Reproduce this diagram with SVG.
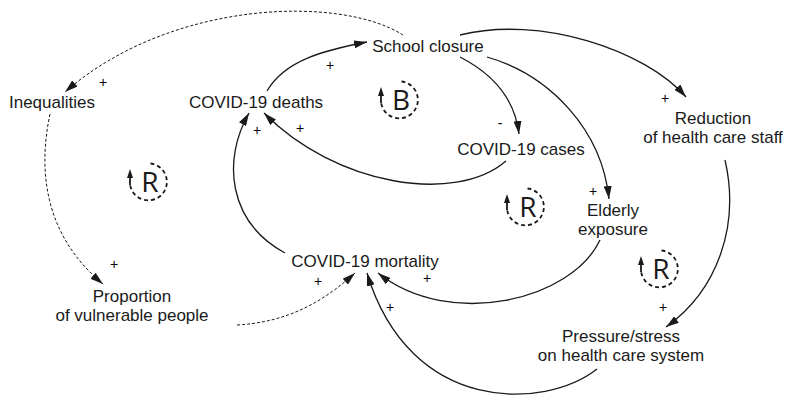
<svg xmlns="http://www.w3.org/2000/svg" width="791" height="404" viewBox="0 0 791 404">
<style>
  .node { font-family: "Liberation Sans", Arial, sans-serif; font-size: 17px; fill: #1a1a1a; text-anchor: middle; }
  .pol { font-family: "Liberation Sans", Arial, sans-serif; font-size: 14px; fill: #000000; text-anchor: middle; }
  .link { fill: none; stroke: #1a1a1a; stroke-width: 1.3; marker-end: url(#arr); }
  .dash { fill: none; stroke: #1a1a1a; stroke-width: 1; stroke-dasharray: 3 2; marker-end: url(#arr); }
  .loopArc { fill: none; stroke: #1a1a1a; stroke-width: 1.8; stroke-dasharray: 4 3; }
  .loopTxt { font-family: "Open Sans", "Noto Sans", sans-serif; font-size: 28px; fill: #1a1a1a; text-anchor: middle; }
</style>
<defs>
  <marker id="arr" markerUnits="userSpaceOnUse" markerWidth="13" markerHeight="8" refX="13" refY="4" orient="auto">
    <path d="M0,0 L13,4 L0,8 Z" fill="#1a1a1a"/>
  </marker>
  <g id="loopSym">
    <path class="loopArc" d="M 1.5 -18.5 A 18.5 18.5 0 1 1 -19 2"/>
    <path d="M -19 3 L -19 -6" stroke="#1a1a1a" stroke-width="1.8" fill="none"/>
    <path d="M -22 -4 L -19 -13 L -16 -4 Z" fill="#1a1a1a"/>
  </g>
</defs>

<g id="connectors">
  <path class="dash" d="M 403 35 C 340 -5, 170 0, 65 92"/>
  <path class="dash" d="M 50 114 C 36 180, 50 240, 103 284"/>
  <path class="dash" d="M 237 325 C 290 322, 325 300, 355 273"/>
  <path class="link" d="M 267 91 C 285 60, 325 50, 367 42"/>
  <path class="link" d="M 460 57 C 495 75, 515 100, 519 134"/>
  <path class="link" d="M 487 57 C 550 75, 602 130, 609 199"/>
  <path class="link" d="M 460 35 C 540 15, 645 50, 686 97"/>
  <path class="link" d="M 725 160 C 740 225, 718 290, 666 327"/>
  <path class="link" d="M 506 161 C 455 205, 335 185, 264 113"/>
  <path class="link" d="M 285 253 C 228 222, 222 160, 249 113"/>
  <path class="link" d="M 600 240 C 572 300, 450 330, 378 273"/>
  <path class="link" d="M 597 369 C 545 410, 410 415, 367 273"/>
  <g id="polarities">
    <text class="pol" x="103" y="87">+</text>
    <text class="pol" x="330" y="70">+</text>
    <text class="pol" x="257" y="135">+</text>
    <text class="pol" x="300" y="133">+</text>
    <text class="pol" x="114" y="269">+</text>
    <text class="pol" x="318" y="286">+</text>
    <text class="pol" x="390" y="312">+</text>
    <text class="pol" x="427" y="283">+</text>
    <text class="pol" x="500" y="128">-</text>
    <text class="pol" x="593" y="196">+</text>
    <text class="pol" x="665" y="103">+</text>
    <text class="pol" x="663" y="312">+</text>
  </g>
</g>

<g id="school-closure"><text class="node" x="428" y="52">School closure</text></g>
<g id="inequalities"><text class="node" x="52" y="108">Inequalities</text></g>
<g id="covid-deaths"><text class="node" x="256" y="108">COVID-19 deaths</text></g>
<g id="covid-cases"><text class="node" x="521" y="155">COVID-19 cases</text></g>
<g id="reduction-staff"><text class="node" x="713" y="124">Reduction</text><text class="node" x="713" y="143">of health care staff</text></g>
<g id="elderly-exposure"><text class="node" x="613" y="216">Elderly</text><text class="node" x="613" y="235">exposure</text></g>
<g id="covid-mortality"><text class="node" x="365" y="267">COVID-19 mortality</text></g>
<g id="vulnerable"><text class="node" x="132" y="302">Proportion</text><text class="node" x="132" y="321">of vulnerable people</text></g>
<g id="pressure"><text class="node" x="621" y="342">Pressure/stress</text><text class="node" x="621" y="361">on health care system</text></g>

<g id="loop-B"><use href="#loopSym" x="400" y="100"/><text class="loopTxt" x="401" y="110">B</text></g>
<g id="loop-R1"><use href="#loopSym" x="149" y="182"/><text class="loopTxt" x="150" y="192">R</text></g>
<g id="loop-R2"><use href="#loopSym" x="526" y="207"/><text class="loopTxt" x="528" y="217">R</text></g>
<g id="loop-R3"><use href="#loopSym" x="660" y="269"/><text class="loopTxt" x="661" y="279">R</text></g>
</svg>
